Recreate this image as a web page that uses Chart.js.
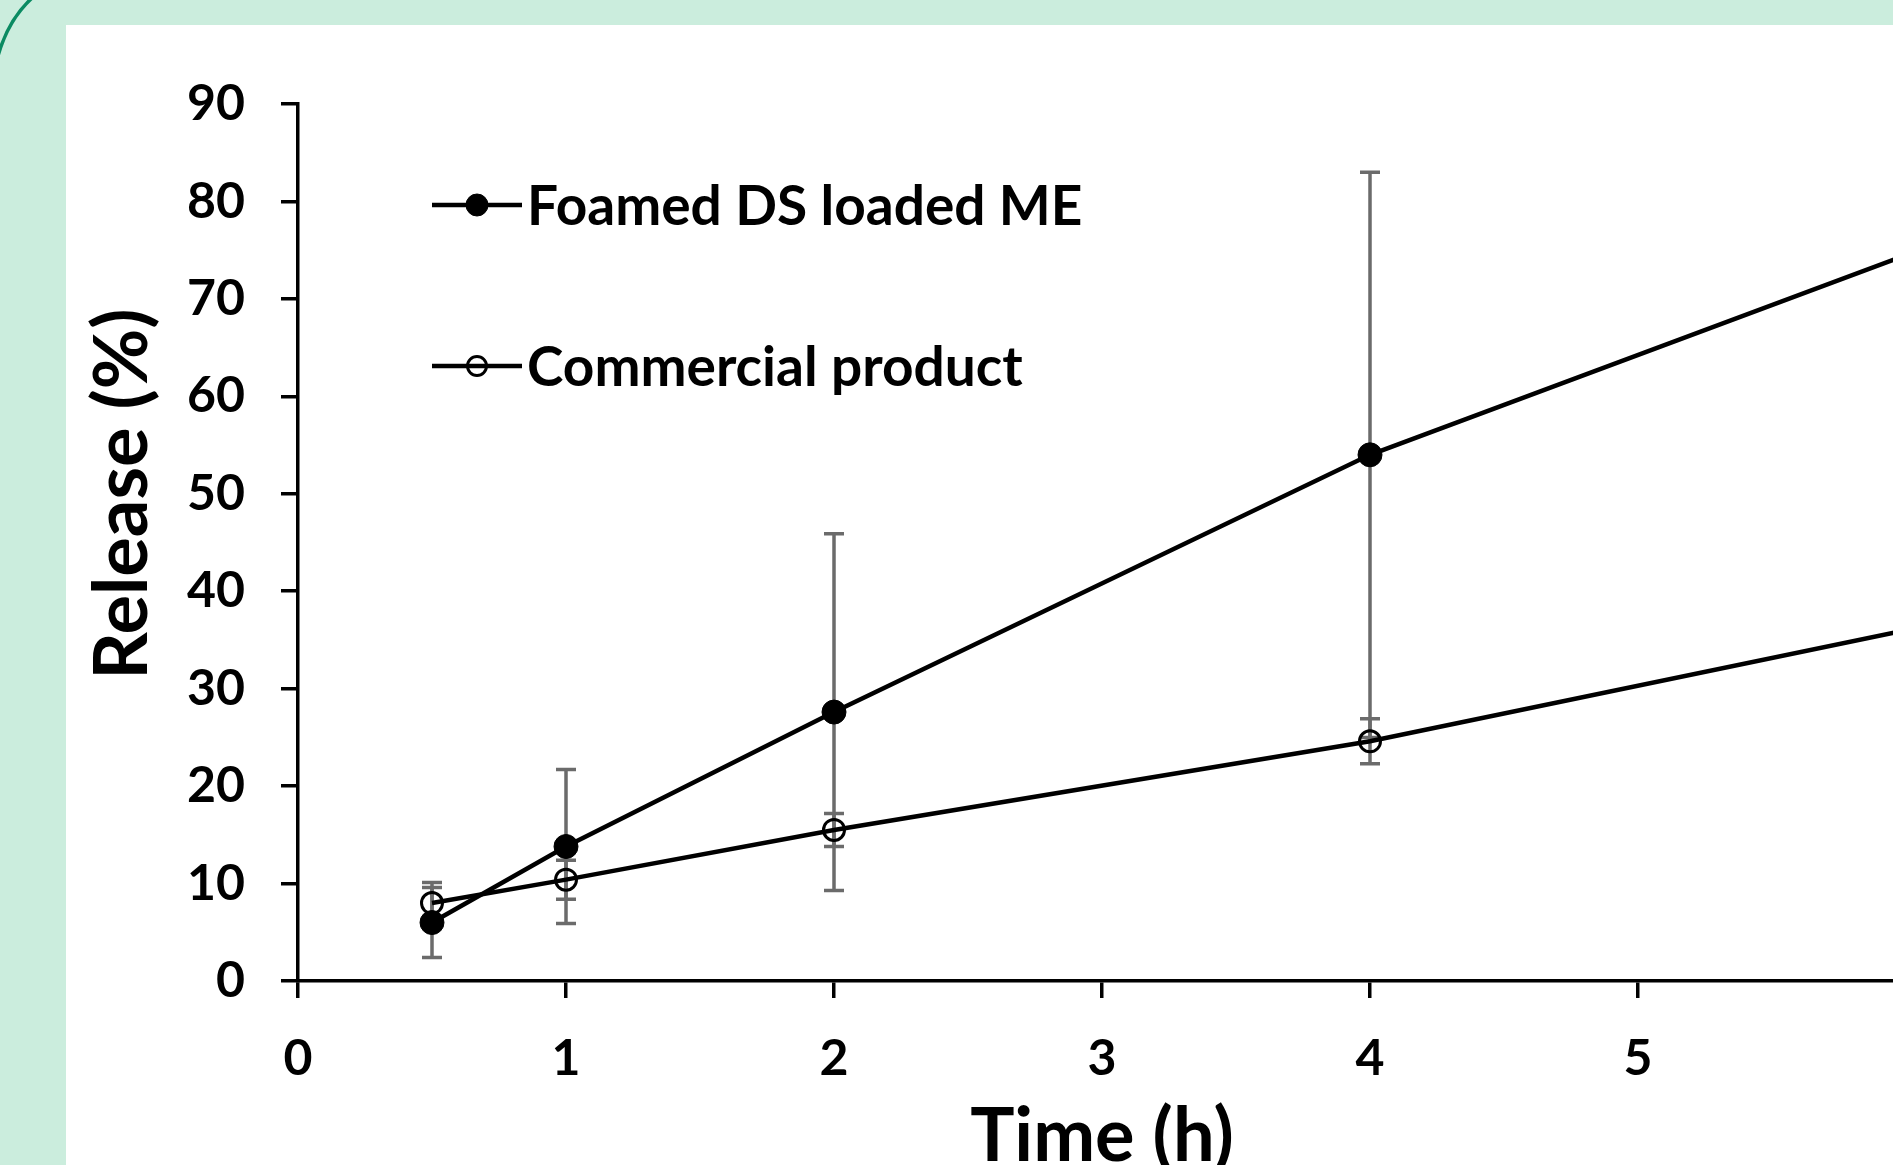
<!DOCTYPE html>
<html>
<head>
<meta charset="utf-8">
<script src="https://cdn.jsdelivr.net/npm/chart.js@4.4.1/dist/chart.umd.min.js"></script>
<style>
html,body{margin:0;padding:0;width:1893px;height:1165px;overflow:hidden;background:#cbeddd;}
#panel{position:absolute;left:66px;top:25px;width:1900px;height:1200px;background:#ffffff;}
#arc{position:absolute;left:0;top:0;}
#wrap{position:absolute;left:0;top:0;width:2000px;height:1250px;}
</style>
</head>
<body>
<div id="panel"></div>
<svg id="arc" width="80" height="80"><path d="M -2 56 Q 8 20 32 -2" stroke="#0b8b62" stroke-width="3.5" fill="none"/></svg>
<div id="wrap"><canvas id="c" width="2000" height="1250"></canvas></div>
<script>
// ---- data ----
const timeH = [0.5, 1, 2, 4, 6];
const foamedRelease = [6.0, 13.8, 27.6, 54.0, 74.5];
const foamedSD = [3.6, 7.9, 18.3, 29.0, 12.0];
const commercialRelease = [8.0, 10.4, 15.5, 24.6, 36.0];
const commercialSD = [2.1, 2.0, 1.7, 2.3, 3.0];
const seriesNames = ['Foamed DS loaded ME', 'Commercial product'];
const xTickValues = [0, 1, 2, 3, 4, 5, 6];
const yTickValues = [0, 10, 20, 30, 40, 50, 60, 70, 80, 90];
const xTitle = 'Time (h)';
const yTitle = 'Release (%)';

const FONT = 'Lato, "Open Sans", sans-serif';

const errorBars = {
  id: 'errorBars',
  beforeDatasetsDraw(chart) {
    const ctx = chart.ctx;
    const xs = chart.scales.x, ys = chart.scales.y;
    ctx.save();
    ctx.strokeStyle = '#6b6b6b';
    ctx.lineWidth = 3.5;
    chart.data.datasets.forEach(ds => {
      ds.data.forEach((p, i) => {
        const sd = ds.sd[i];
        const px = xs.getPixelForValue(p.x);
        const top = ys.getPixelForValue(p.y + sd);
        const bot = ys.getPixelForValue(p.y - sd);
        ctx.beginPath();
        ctx.moveTo(px, top); ctx.lineTo(px, bot);
        ctx.moveTo(px - 10, top); ctx.lineTo(px + 10, top);
        ctx.moveTo(px - 10, bot); ctx.lineTo(px + 10, bot);
        ctx.stroke();
      });
    });
    ctx.restore();
  }
};

const innerLegend = {
  id: 'innerLegend',
  afterDraw(chart) {
    const ctx = chart.ctx;
    const left = chart.chartArea.left;
    const rows = [205, 366];
    ctx.save();
    chart.data.datasets.forEach((ds, i) => {
      const y = rows[i];
      const x0 = left + 134, x1 = left + 224, mx = left + 179;
      ctx.strokeStyle = '#000';
      ctx.lineWidth = 4.5;
      ctx.beginPath(); ctx.moveTo(x0, y); ctx.lineTo(x1, y); ctx.stroke();
      ctx.beginPath();
      ctx.arc(mx, y, ds.pointRadius - 1, 0, Math.PI * 2);
      if (ds.pointBackgroundColor !== 'rgba(0,0,0,0)') { ctx.fillStyle = ds.pointBackgroundColor; ctx.fill(); }
      ctx.lineWidth = ds.pointBorderWidth;
      ctx.stroke();
      ctx.fillStyle = '#000';
      ctx.font = 'bold 55px ' + FONT;
      ctx.textAlign = 'left';
      ctx.textBaseline = 'alphabetic';
      ctx.fillText(ds.label, left + 229, y + 20);
    });
    ctx.restore();
  }
};

const yTitlePlugin = {
  id: 'yTitlePlugin',
  afterDraw(chart) {
    const ctx = chart.ctx;
    ctx.save();
    ctx.translate(147, 494);
    ctx.rotate(-Math.PI / 2);
    ctx.fillStyle = '#000';
    ctx.font = 'bold 74px ' + FONT;
    ctx.textAlign = 'center';
    ctx.textBaseline = 'alphabetic';
    ctx.fillText(yTitle, 0, 0);
    ctx.restore();
  }
};

new Chart(document.getElementById('c'), {
  type: 'line',
  data: {
    datasets: [
      {
        label: seriesNames[0],
        data: timeH.map((x, i) => ({x, y: foamedRelease[i]})),
        sd: foamedSD,
        borderColor: '#000', borderWidth: 4.5, tension: 0,
        pointRadius: 12, pointBackgroundColor: '#000', pointBorderColor: '#000', pointBorderWidth: 1
      },
      {
        label: seriesNames[1],
        data: timeH.map((x, i) => ({x, y: commercialRelease[i]})),
        sd: commercialSD,
        borderColor: '#000', borderWidth: 4.5, tension: 0,
        pointRadius: 10.5, pointBackgroundColor: 'rgba(0,0,0,0)', pointBorderColor: '#000', pointBorderWidth: 3
      }
    ]
  },
  options: {
    responsive: false,
    animation: false,
    devicePixelRatio: 1,
    layout: {padding: {top: 104, right: 94, bottom: 63, left: 0}},
    plugins: {legend: {display: false}, tooltip: {enabled: false}},
    scales: {
      x: {
        type: 'linear', min: 0, max: 6,
        afterFit: s => { s.height = 206; },
        afterBuildTicks: s => { s.ticks = xTickValues.map(v => ({value: v})); },
        grid: {drawOnChartArea: false, drawTicks: true, tickLength: 17, color: '#000', lineWidth: 3.5},
        border: {display: true, color: '#000', width: 3.5},
        ticks: {color: '#000', font: {family: FONT, size: 50, weight: 'bold'}, padding: 31, maxRotation: 0, autoSkip: false},
        title: {display: true, text: xTitle, color: '#000', font: {family: FONT, size: 74, weight: 'bold'}, padding: {top: 0, bottom: 5}}
      },
      y: {
        type: 'linear', min: 0, max: 90,
        afterFit: s => { s.width = 298; },
        afterBuildTicks: s => { s.ticks = yTickValues.map(v => ({value: v})); },
        grid: {drawOnChartArea: false, drawTicks: true, tickLength: 17, color: '#000', lineWidth: 3.5},
        border: {display: true, color: '#000', width: 3.5},
        ticks: {color: '#000', font: {family: FONT, size: 50, weight: 'bold'}, padding: 36, autoSkip: false}
      }
    }
  },
  plugins: [errorBars, innerLegend, yTitlePlugin]
});
</script>
</body>
</html>
